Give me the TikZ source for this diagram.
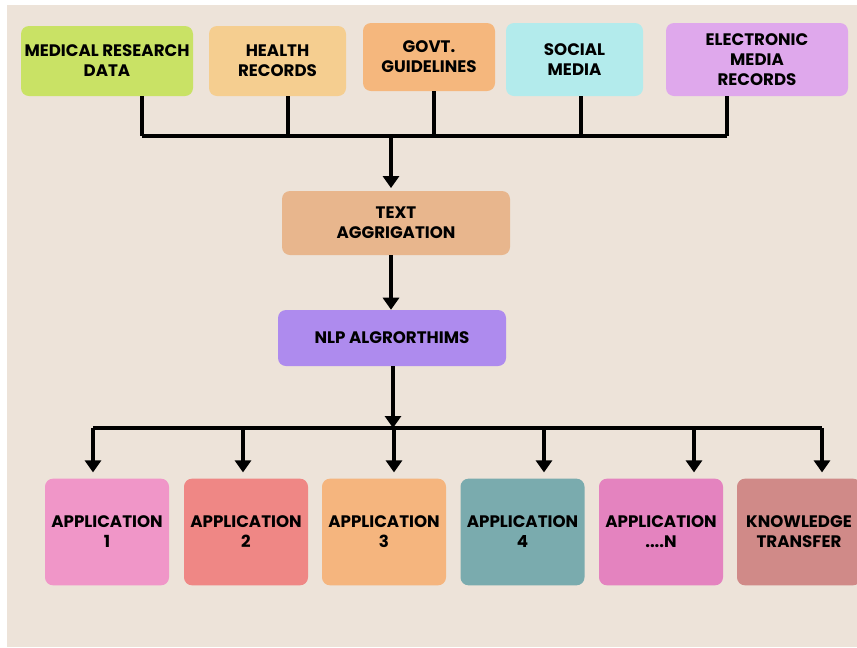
\documentclass[tikz,border=0pt]{standalone}
\usepackage{fontspec}
\setmainfont{Poppins}
\usetikzlibrary{arrows.meta}
\definecolor{bgcol}{HTML}{EDE3D9}
\definecolor{cMed}{HTML}{C9E265}
\definecolor{cHealth}{HTML}{F5CE90}
\definecolor{cGovt}{HTML}{F5B77D}
\definecolor{cSocial}{HTML}{B3EBEC}
\definecolor{cElec}{HTML}{DFA8EC}
\definecolor{cText}{HTML}{E8B68D}
\definecolor{cNlp}{HTML}{AE8BEE}
\definecolor{cAppA}{HTML}{F096C8}
\definecolor{cAppB}{HTML}{EF8785}
\definecolor{cAppC}{HTML}{F5B57E}
\definecolor{cAppD}{HTML}{7AABAE}
\definecolor{cAppN}{HTML}{E483BF}
\definecolor{cKnow}{HTML}{D08A88}
\tikzset{
    box/.style={rounded corners=6pt,align=center,inner sep=1pt,
        font=\fontsize{12.5}{15}\selectfont\bfseries},
    appbox/.style={box,minimum width=93pt,minimum height=80pt},
    wire/.style={line width=3pt},
    arr/.style={wire,-{Triangle[width=12pt,length=9pt]}}
}
\begin{document}
\begin{tikzpicture}[x=0.75pt,y=-0.75pt]
    \useasboundingbox (0,0) rectangle (857,647);
    \fill[bgcol] (7,5) rectangle (857,647);
    % sources
    \node[box,fill=cMed,minimum width=129pt,minimum height=52.5pt] (med) at (107,61) {MEDICAL RESEARCH\\DATA};
    \node[box,fill=cHealth,minimum width=102.75pt,minimum height=52.5pt] (health) at (277.5,61) {HEALTH\\RECORDS};
    \node[box,fill=cGovt,minimum width=99pt,minimum height=51pt] (govt) at (429,57) {GOVT.\\GUIDELINES};
    \node[box,fill=cSocial,minimum width=102.75pt,minimum height=54.75pt] (social) at (574.5,59.5) {SOCIAL\\MEDIA};
    \node[box,fill=cElec,minimum width=136.5pt,minimum height=54.75pt] (elec) at (757,59.5) {ELECTRONIC\\MEDIA\\RECORDS};
    % middle
    \node[box,fill=cText,minimum width=171pt,minimum height=48pt] (text) at (396,223) {TEXT\\AGGRIGATION};
    \node[box,fill=cNlp,minimum width=171pt,minimum height=42pt] (nlp) at (392,338) {NLP ALGRORTHIMS};
    % applications
    \node[appbox,fill=cAppA] (appa) at (107,532) {APPLICATION\\1};
    \node[appbox,fill=cAppB] (appb) at (246,532) {APPLICATION\\2};
    \node[appbox,fill=cAppC] (appc) at (384,532) {APPLICATION\\3};
    \node[appbox,fill=cAppD] (appd) at (522.5,532) {APPLICATION\\4};
    \node[appbox,fill=cAppN] (appn) at (661,532) {APPLICATION\\....N};
    \node[appbox,fill=cKnow] (know) at (799,532) {KNOWLEDGE\\TRANSFER};
    % top bus
    \coordinate (t1) at (142,136);
    \coordinate (t2) at (288,136);
    \coordinate (t3) at (434,136);
    \coordinate (t4) at (581,136);
    \coordinate (t5) at (727,136);
    \coordinate (tmid) at (391,136);
    \draw[wire] (t1 |- med.south) -- (t1);
    \draw[wire] (t2 |- health.south) -- (t2);
    \draw[wire] (t3 |- govt.south) -- (t3);
    \draw[wire] (t4 |- social.south) -- (t4);
    \draw[wire] (t5 |- elec.south) -- (t5);
    \draw[wire] (t1) -- (t5);
    \draw[arr] (tmid) -- ([yshift=2pt]tmid |- text.north);
    \draw[arr] (text.south -| tmid) -- (tmid |- nlp.north);
    % bottom bus
    \coordinate (bmid) at (393,428);
    \draw[arr] (nlp.south -| bmid) -- (bmid);
    \foreach \n/\x in {appa/93,appb/243,appc/394,appd/544,appn/694,know/822}
    {
        \coordinate (b\n) at (\x,428);
        \draw[arr] (b\n) -- ([yshift=4.5pt]b\n |- \n.north);
    }
    \draw[wire] (bappa) -- (bknow);
\end{tikzpicture}
\end{document}
